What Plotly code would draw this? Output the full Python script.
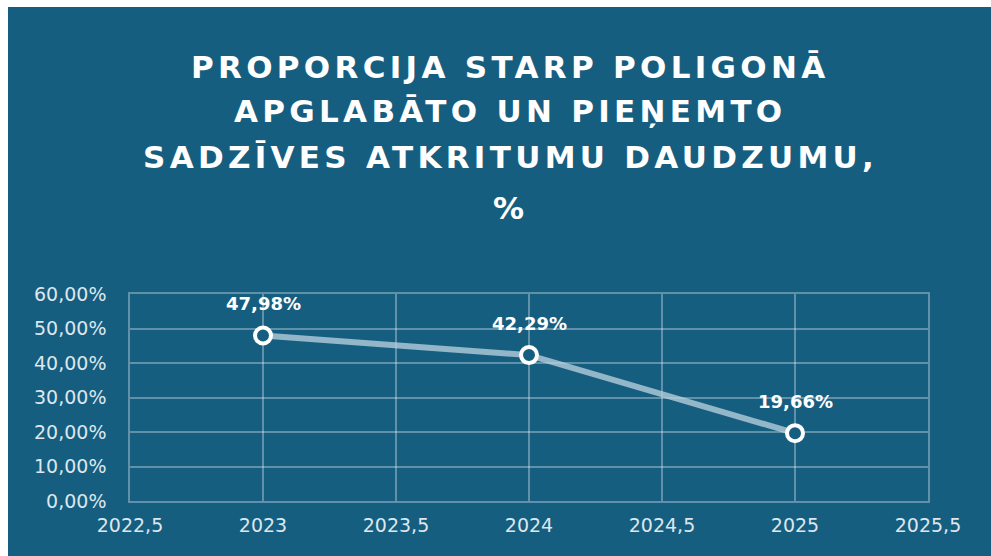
import plotly.graph_objects as go

years = [2023, 2024, 2025]
values = [47.98, 42.29, 19.66]
title_lines = ["PROPORCIJA STARP POLIGONĀ", "APGLABĀTO UN PIEŅEMTO", "SADZĪVES ATKRITUMU DAUDZUMU,", "%"]
y_ticks = [0, 10, 20, 30, 40, 50, 60]
x_ticks = [2022.5, 2023, 2023.5, 2024, 2024.5, 2025, 2025.5]

BG = "#165E80"
GRID = "rgba(255,255,255,0.32)"
TICK = "#dde7ee"

def fmt(v, dec):
    return f"{v:.{dec}f}".replace(".", ",")

fig = go.Figure()
fig.add_trace(go.Scatter(
    x=years, y=values, mode="lines+markers",
    line=dict(color="rgba(190,212,224,0.75)", width=6),
    marker=dict(size=16, color=BG, line=dict(color="white", width=4)),
    hoverinfo="skip", showlegend=False,
))

for x, y in zip(years, values):
    fig.add_annotation(x=x, y=y, text=fmt(y, 2) + "%", showarrow=False,
                       yshift=32, font=dict(family="DejaVu Sans", size=18, color="white", weight="bold"))

W, H = 991, 556
L, R, T, B = 130, 63, 294, 55
ph = H - T - B
pw = W - L - R
centers = [67, 111, 157, 208]
for txt, cy in zip(title_lines, centers):
    fig.add_annotation(xref="paper", yref="paper", x=(510 - L) / pw, y=1 + (T - cy) / ph,
                       text=f"<span style='letter-spacing:4.3px'>{txt}</span>", showarrow=False,
                       xanchor="center", yanchor="middle",
                       font=dict(family="DejaVu Sans", size=31, color="white", weight="bold"))

# white strips along the top and left edges
fig.add_shape(type="rect", xref="paper", yref="paper", layer="above",
              x0=-L / pw - 0.01, x1=(8 - L) / pw, y0=-B / ph - 0.05, y1=1 + T / ph + 0.05,
              fillcolor="white", line=dict(width=0))
fig.add_shape(type="rect", xref="paper", yref="paper", layer="above",
              x0=-L / pw - 0.01, x1=1 + R / pw + 0.01, y0=1 + (T - 7) / ph, y1=1 + T / ph + 0.05,
              fillcolor="white", line=dict(width=0))

fig.update_layout(
    width=W, height=H,
    margin=dict(l=L, r=R, t=T, b=B),
    paper_bgcolor=BG, plot_bgcolor=BG,
    xaxis=dict(range=[2022.5, 2025.5], tickvals=x_ticks,
               ticktext=[fmt(v, 1).replace(",0", "") for v in x_ticks],
               showgrid=True, gridcolor=GRID, gridwidth=1.5, zeroline=False,
               showline=True, linecolor=GRID, linewidth=1.5, mirror=True,
               ticks="", ticklabelstandoff=6,
               tickfont=dict(family="DejaVu Sans", size=19, color=TICK)),
    yaxis=dict(range=[0, 60], tickvals=y_ticks,
               ticktext=[fmt(v, 2) + "%" for v in y_ticks],
               showgrid=True, gridcolor=GRID, gridwidth=1.5, zeroline=False,
               showline=True, linecolor=GRID, linewidth=1.5, mirror=True,
               ticks="", ticklabelstandoff=18,
               tickfont=dict(family="DejaVu Sans", size=19, color=TICK)),
)

fig.write_html("out.html", config={"displayModeBar": False},
               post_script="document.body.style.margin='0';document.documentElement.style.overflow='hidden';")
